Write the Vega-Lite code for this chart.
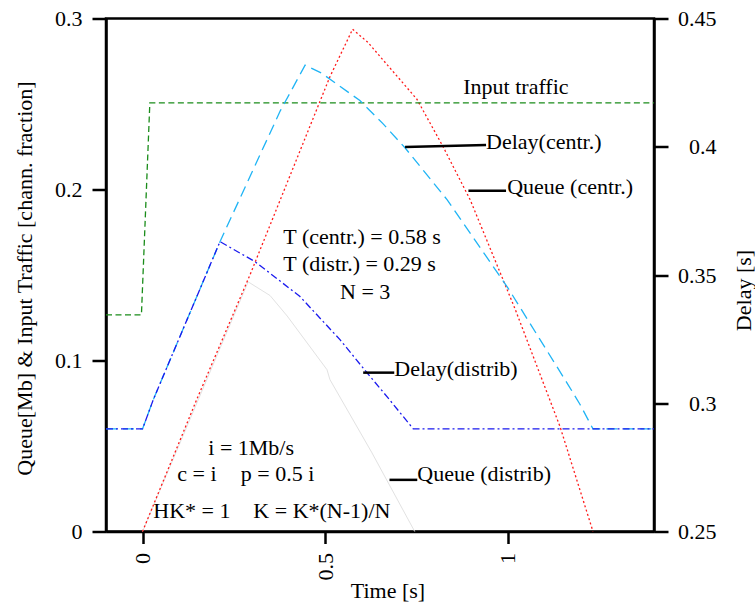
{
  "$schema": "https://vega.github.io/schema/vega-lite/v6.json",
  "width": 548,
  "height": 513,
  "autosize": {"type": "none"},
  "padding": {"left": 106, "top": 18.5, "right": 101, "bottom": 72.5},
  "config": {
    "view": {"stroke": "black", "strokeWidth": 2.5},
    "font": "Liberation Serif",
    "axis": {
      "domainColor": "black", "domainWidth": 2.5,
      "tickColor": "black", "tickWidth": 2.5, "tickSize": 14,
      "labelColor": "black", "titleColor": "black",
      "labelFont": "Liberation Serif", "titleFont": "Liberation Serif",
      "labelFontSize": 22, "titleFontSize": 22, "titleFontWeight": "normal",
      "grid": false
    }
  },
  "datasets": {
    "curves": [
      {"s": "QC", "t": 0, "v": 0},
      {"s": "QC", "t": 0.148, "v": 0.077},
      {"s": "QC", "t": 0.294, "v": 0.150},
      {"s": "QC", "t": 0.513, "v": 0.266},
      {"s": "QC", "t": 0.575, "v": 0.2937},
      {"s": "QC", "t": 0.617, "v": 0.286},
      {"s": "QC", "t": 0.751, "v": 0.2528},
      {"s": "QC", "t": 0.823, "v": 0.2249},
      {"s": "QC", "t": 0.897, "v": 0.1939},
      {"s": "QC", "t": 1.02, "v": 0.13},
      {"s": "QC", "t": 1.143, "v": 0.0612},
      {"s": "QC", "t": 1.233, "v": 0},

      {"s": "QD", "t": 0, "v": 0},
      {"s": "QD", "t": 0.289, "v": 0.146},
      {"s": "QD", "t": 0.349, "v": 0.138},
      {"s": "QD", "t": 0.396, "v": 0.126},
      {"s": "QD", "t": 0.505, "v": 0.0946},
      {"s": "QD", "t": 0.513, "v": 0.0888},
      {"s": "QD", "t": 0.628, "v": 0.046},
      {"s": "QD", "t": 0.745, "v": 0},

      {"s": "IN", "t": -0.1, "v": 0.1267},
      {"s": "IN", "t": -0.003, "v": 0.1267},
      {"s": "IN", "t": 0.02, "v": 0.2506},
      {"s": "IN", "t": 1.4, "v": 0.2506},

      {"s": "DC", "t": -0.1, "v": 0.29},
      {"s": "DC", "t": 0, "v": 0.29},
      {"s": "DC", "t": 0.03, "v": 0.3016},
      {"s": "DC", "t": 0.212, "v": 0.363},
      {"s": "DC", "t": 0.377, "v": 0.414},
      {"s": "DC", "t": 0.445, "v": 0.4318},
      {"s": "DC", "t": 0.49, "v": 0.4287},
      {"s": "DC", "t": 0.595, "v": 0.418},
      {"s": "DC", "t": 0.658, "v": 0.409},
      {"s": "DC", "t": 0.719, "v": 0.3995},
      {"s": "DC", "t": 0.834, "v": 0.3793},
      {"s": "DC", "t": 1.0, "v": 0.345},
      {"s": "DC", "t": 1.165, "v": 0.3072},
      {"s": "DC", "t": 1.198, "v": 0.2994},
      {"s": "DC", "t": 1.233, "v": 0.29},
      {"s": "DC", "t": 1.4, "v": 0.29},

      {"s": "DD", "t": -0.1, "v": 0.29},
      {"s": "DD", "t": 0, "v": 0.29},
      {"s": "DD", "t": 0.03, "v": 0.3016},
      {"s": "DD", "t": 0.212, "v": 0.363},
      {"s": "DD", "t": 0.308, "v": 0.3552},
      {"s": "DD", "t": 0.431, "v": 0.3416},
      {"s": "DD", "t": 0.541, "v": 0.3247},
      {"s": "DD", "t": 0.615, "v": 0.3118},
      {"s": "DD", "t": 0.672, "v": 0.3021},
      {"s": "DD", "t": 0.741, "v": 0.29},
      {"s": "DD", "t": 1.4, "v": 0.29}
    ],
    "leaders": [
      {"t": 0.7186, "v1": 0.2249, "t2": 0.9403, "v2": 0.2260},
      {"t": 0.892, "v1": 0.1992, "t2": 0.995, "v2": 0.1992},
      {"t": 0.604, "v1": 0.0929, "t2": 0.689, "v2": 0.0929},
      {"t": 0.676, "v1": 0.0302, "t2": 0.752, "v2": 0.0302}
    ],
    "notes": [
      {"label": "Input traffic", "t": 0.878, "v": 0.2597},
      {"label": "Delay(centr.)", "t": 0.9403, "v": 0.2275},
      {"label": "Queue (centr.)", "t": 0.998, "v": 0.2012},
      {"label": "T (centr.) = 0.58 s", "t": 0.3855, "v": 0.1724},
      {"label": "T (distr.) = 0.29 s", "t": 0.3855, "v": 0.1564},
      {"label": "N = 3", "t": 0.5407, "v": 0.1398},
      {"label": "Delay(distrib)", "t": 0.689, "v": 0.095},
      {"label": "Queue (distrib)", "t": 0.752, "v": 0.0337},
      {"label": "i = 1Mb/s", "t": 0.180, "v": 0.049},
      {"label": "c = i", "t": 0.0953, "v": 0.0335},
      {"label": "p = 0.5 i", "t": 0.2688, "v": 0.0335},
      {"label": "HK* = 1", "t": 0.0296, "v": 0.012},
      {"label": "K = K*(N-1)/N", "t": 0.3033, "v": 0.012}
    ]
  },
  "encoding": {
    "x": {"field": "t", "type": "quantitative", "scale": {"domain": [-0.1, 1.4], "nice": false, "zero": false},
      "axis": {"orient": "bottom", "values": [0, 0.5, 1], "format": "~g", "labelAngle": -90, "tickSize": 12, "labelPadding": 9,
        "title": "Time [s]", "titleX": 281.5, "titleY": 66, "titleBaseline": "alphabetic", "titleAlign": "center", "titleAnchor": "start"}}
  },
  "layer": [
    {
      "data": {"name": "curves"},
      "transform": [{"filter": "datum.s === 'QD'"}],
      "mark": {"type": "line", "color": "#e2e2e2", "strokeWidth": 1},
      "encoding": {
        "y": {"field": "v", "type": "quantitative", "scale": {"domain": [0, 0.3], "nice": false, "zero": false},
          "axis": {"orient": "left", "values": [0, 0.1, 0.2, 0.3], "format": "~g", "labelPadding": 10,
            "title": "Queue[Mb] & Input Traffic [chann. fraction]", "titleX": -82, "titleY": 259.5, "titleAngle": 270,
            "titleBaseline": "middle", "titleAlign": "center", "titleAnchor": "start"}}
      }
    },
    {
      "data": {"name": "curves"},
      "transform": [{"filter": "datum.s === 'QC'"}],
      "mark": {"type": "line", "color": "#ff1a1a", "strokeWidth": 1.3, "strokeDash": [2, 2.5]},
      "encoding": {
        "y": {"field": "v", "type": "quantitative", "scale": {"domain": [0, 0.3], "nice": false, "zero": false}, "axis": null}
      }
    },
    {
      "data": {"name": "curves"},
      "transform": [{"filter": "datum.s === 'IN'"}],
      "mark": {"type": "line", "color": "#1a8c1a", "strokeWidth": 1.3, "strokeDash": [6, 3.5]},
      "encoding": {
        "y": {"field": "v", "type": "quantitative", "scale": {"domain": [0, 0.3], "nice": false, "zero": false}, "axis": null}
      }
    },
    {
      "data": {"name": "curves"},
      "transform": [{"filter": "datum.s === 'DC'"}],
      "mark": {"type": "line", "color": "#1fb4f5", "strokeWidth": 1.3, "strokeDash": [11, 6]},
      "encoding": {
        "y": {"field": "v", "type": "quantitative", "scale": {"domain": [0.25, 0.45], "nice": false, "zero": false},
          "axis": {"orient": "right", "values": [0.25, 0.3, 0.35, 0.4, 0.45], "format": "~g", "labelAlign": "right", "labelPadding": 48,
            "title": "Delay [s]", "titleX": 96, "titleY": 271.5, "titleAngle": 270, "titleBaseline": "alphabetic", "titleAlign": "center", "titleAnchor": "start"}}
      }
    },
    {
      "data": {"name": "curves"},
      "transform": [{"filter": "datum.s === 'DD'"}],
      "mark": {"type": "line", "color": "#1a1aee", "strokeWidth": 1.3, "strokeDash": [7, 3, 2, 3]},
      "encoding": {
        "y": {"field": "v", "type": "quantitative", "scale": {"domain": [0.25, 0.45], "nice": false, "zero": false}, "axis": null}
      }
    },
    {
      "data": {"name": "leaders"},
      "mark": {"type": "rule", "color": "black", "strokeWidth": 2.5},
      "encoding": {
        "x2": {"field": "t2"},
        "y": {"field": "v1", "type": "quantitative", "scale": {"domain": [0, 0.3], "nice": false, "zero": false}, "axis": null},
        "y2": {"field": "v2"}
      }
    },
    {
      "data": {"name": "notes"},
      "mark": {"type": "text", "align": "left", "baseline": "middle", "font": "Liberation Serif", "fontSize": 22, "color": "black"},
      "encoding": {
        "y": {"field": "v", "type": "quantitative", "scale": {"domain": [0, 0.3], "nice": false, "zero": false}, "axis": null},
        "text": {"field": "label"}
      }
    }
  ],
  "resolve": {"scale": {"y": "independent"}}
}
